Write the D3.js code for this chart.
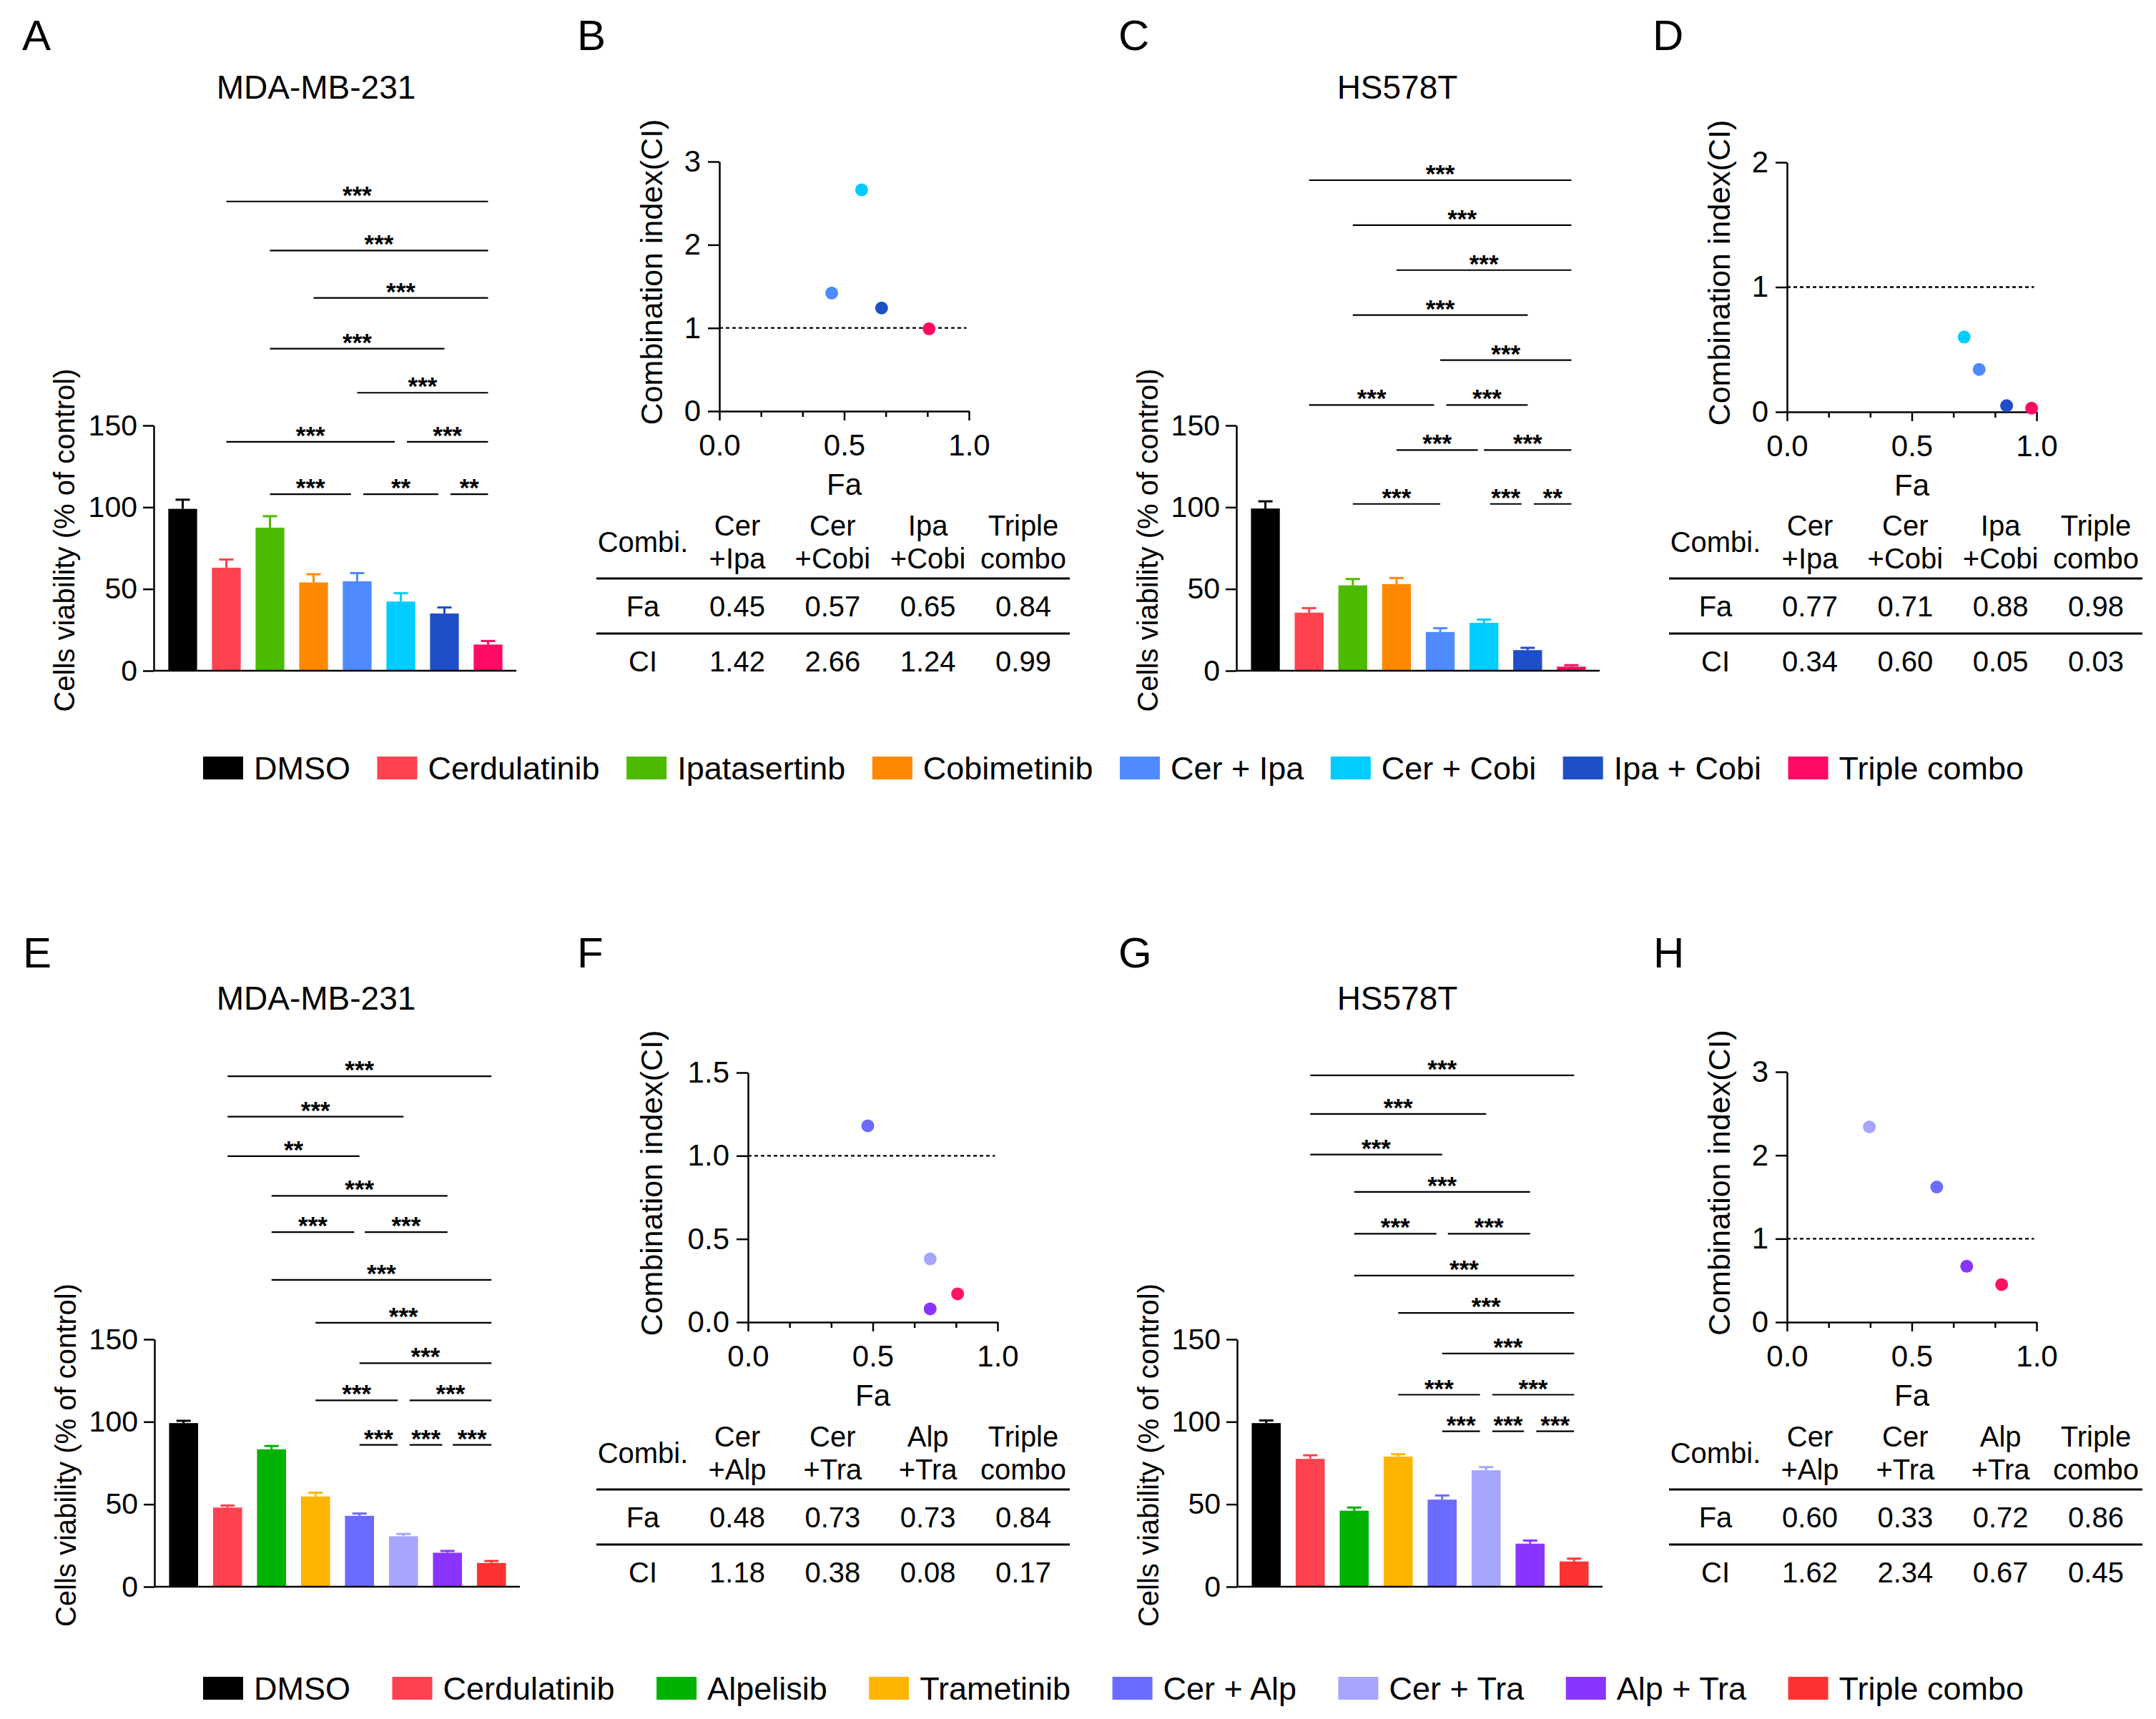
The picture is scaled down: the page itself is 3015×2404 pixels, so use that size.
<!DOCTYPE html>
<html>
<head>
<meta charset="utf-8">
<script src="https://cdn.jsdelivr.net/npm/d3@7"></script>
<style>
  body { margin: 0; background: #fff; }
  svg { display: block; font-family: "Liberation Sans", Arial, Helvetica, sans-serif; }
</style>
</head>
<body>
<script>
// ---- data ----
const groupsTop = ["DMSO", "Cerdulatinib", "Ipatasertinb", "Cobimetinib", "Cer + Ipa", "Cer + Cobi", "Ipa + Cobi", "Triple combo"];
const groupsBottom = ["DMSO", "Cerdulatinib", "Alpelisib", "Trametinib", "Cer + Alp", "Cer + Tra", "Alp + Tra", "Triple combo"];
const colorsTop = ["#000000", "#ff4250", "#4cbb00", "#ff8800", "#4f8bff", "#00ccff", "#1f4fc8", "#ff0a64"];
const colorsBottom = ["#000000", "#ff4250", "#00b300", "#ffb400", "#6b6bff", "#a6a6ff", "#8a35ff", "#ff3232"];

const barTicks = [0, 50, 100, 150];

// cell viability (% of control), mean and upper error
const viabilityA = [99, 63, 87.5, 54, 54.7, 42.3, 35, 16];
const errorA = [5.6, 5, 7, 5, 5, 5.1, 3.7, 2.2];
const viabilityC = [99.2, 35.5, 52.2, 53, 23.7, 29.3, 12.6, 2.5];
const errorC = [4.4, 2.8, 3.9, 3.7, 2.3, 2, 1.4, 0.9];
const viabilityE = [99.2, 48, 83.3, 54.7, 43, 30.6, 20.6, 14.4];
const errorE = [1.4, 1.2, 2, 2.3, 1.4, 1.4, 1.1, 1.2];
const viabilityG = [99.2, 77.5, 46.1, 78.9, 52.8, 70.6, 26.1, 15.3];
const errorG = [1.6, 2.2, 1.9, 1.4, 2.5, 1.9, 1.9, 1.7];

// significance brackets: [from bar, to bar, level (% units), label]
const bracketsA = [
  [1, 7, 287, "***"], [2, 7, 257, "***"], [3, 7, 228, "***"], [2, 6, 197, "***"],
  [4, 7, 170, "***"], [1, 4.86, 140, "***"], [5.14, 7, 140, "***"],
  [2, 3.86, 108, "***"], [4.14, 5.86, 108, "**"], [6.14, 7, 108, "**"]
];
const bracketsC = [
  [1, 7, 300, "***"], [2, 7, 272.5, "***"], [3, 7, 245, "***"], [2, 6, 217.5, "***"],
  [4, 7, 190, "***"], [1, 3.86, 162.5, "***"], [4.14, 6, 162.5, "***"],
  [3, 4.86, 135, "***"], [5, 7, 135, "***"],
  [2, 4, 102, "***"], [5.14, 5.86, 102, "***"], [6.14, 7, 102, "**"]
];
const bracketsE = [
  [1, 7, 309.5, "***"], [1, 5, 285, "***"], [1, 4, 261, "**"], [2, 6, 237, "***"],
  [2, 3.88, 215, "***"], [4.12, 6, 215, "***"], [2, 7, 186, "***"], [3, 7, 160, "***"],
  [4, 7, 135.5, "***"], [3, 4.87, 113, "***"], [5.14, 7, 113, "***"],
  [4, 4.87, 86, "***"], [5.14, 5.88, 86, "***"], [6.12, 7, 86, "***"]
];
const bracketsG = [
  [1, 7, 310, "***"], [1, 5, 286.6, "***"], [1, 4, 262, "***"], [2, 6, 239.4, "***"],
  [2, 3.87, 214, "***"], [4.13, 6, 214, "***"], [2, 7, 188.6, "***"], [3, 7, 166, "***"],
  [4, 7, 141.4, "***"], [3, 4.86, 116.4, "***"], [5.14, 7, 116.4, "***"],
  [4, 4.86, 94.2, "***"], [5.14, 5.86, 94.2, "***"], [6.14, 7, 94.2, "***"]
];

// combination index tables
const combosTop = [["Cer", "+Ipa"], ["Cer", "+Cobi"], ["Ipa", "+Cobi"], ["Triple", "combo"]];
const combosBottom = [["Cer", "+Alp"], ["Cer", "+Tra"], ["Alp", "+Tra"], ["Triple", "combo"]];
const faB = [0.45, 0.57, 0.65, 0.84];
const ciB = [1.42, 2.66, 1.24, 0.99];
const faD = [0.77, 0.71, 0.88, 0.98];
const ciD = [0.34, 0.60, 0.05, 0.03];
const faF = [0.48, 0.73, 0.73, 0.84];
const ciF = [1.18, 0.38, 0.08, 0.17];
const faH = [0.60, 0.33, 0.72, 0.86];
const ciH = [1.62, 2.34, 0.67, 0.45];
const dotColorsTop = ["#4f8bff", "#00ccff", "#1f4fc8", "#ff0a64"];
const dotColorsBottom = ["#6b6bff", "#a6a6ff", "#8a35ff", "#ff1464"];

// ---- drawing ----
const svg = d3.select("body").append("svg")
  .attr("width", 3015)
  .attr("height", 2404);

function styleAxis(ax, size) {
  ax.attr("font-family", null).attr("font-size", size);
  ax.select(".domain").attr("stroke-width", 2.5);
  ax.selectAll(".tick line").attr("stroke-width", 2.5);
  ax.selectAll(".tick text").attr("fill", "#000");
}

function panelLabel(letter, x, y) {
  svg.append("text").attr("x", x).attr("y", y)
    .attr("font-size", 60).text(letter);
}

function drawBars(p) {
  const g = svg.append("g");
  const n = p.values.length;
  const x = d3.scaleBand().domain(d3.range(n))
    .range([p.x0 + 10, p.x1 - 9])
    .paddingInner(0.34).paddingOuter(0.17);
  const y = d3.scaleLinear().domain([0, 150]).range([p.y0, p.yTop]);
  const half = x.bandwidth() / 2;
  const pos = d3.scaleLinear().domain([0, n - 1]).range([x(0) + half, x(n - 1) + half]);

  g.selectAll("rect").data(p.values).join("rect")
    .attr("x", (d, i) => x(i))
    .attr("y", d => y(d))
    .attr("width", x.bandwidth())
    .attr("height", d => y(0) - y(d))
    .attr("fill", (d, i) => p.colors[i]);

  const err = g.selectAll("g.err").data(p.values).join("g")
    .attr("class", "err")
    .attr("stroke", (d, i) => p.colors[i])
    .attr("stroke-width", 3);
  err.append("line")
    .attr("x1", (d, i) => pos(i)).attr("x2", (d, i) => pos(i))
    .attr("y1", d => y(d)).attr("y2", (d, i) => y(d + p.errors[i]));
  err.append("line")
    .attr("x1", (d, i) => pos(i) - 10).attr("x2", (d, i) => pos(i) + 10)
    .attr("y1", (d, i) => y(d + p.errors[i])).attr("y2", (d, i) => y(d + p.errors[i]));

  const ax = g.append("g").attr("transform", `translate(${p.x0},0)`)
    .call(d3.axisLeft(y).tickValues(barTicks).tickSize(15).tickPadding(8).tickSizeOuter(0));
  styleAxis(ax, 41);
  g.append("line")
    .attr("x1", p.x0).attr("x2", p.x1)
    .attr("y1", y(0)).attr("y2", y(0))
    .attr("stroke", "#000").attr("stroke-width", 2.5);

  const br = g.selectAll("g.br").data(p.brackets).join("g").attr("class", "br");
  br.append("line")
    .attr("x1", d => pos(d[0])).attr("x2", d => pos(d[1]))
    .attr("y1", d => y(d[2])).attr("y2", d => y(d[2]))
    .attr("stroke", "#000").attr("stroke-width", 2.2);
  br.append("text")
    .attr("x", d => (pos(d[0]) + pos(d[1])) / 2)
    .attr("y", d => y(d[2]) + 3)
    .attr("text-anchor", "middle")
    .attr("font-size", 35)
    .attr("font-weight", "bold")
    .text(d => d[3]);

  g.append("text")
    .attr("transform", `translate(${p.ytx},${(p.y0 + p.yTop) / 2 - 11}) rotate(-90)`)
    .attr("text-anchor", "middle")
    .attr("font-size", 40)
    .text("Cells viability (% of control)");

  g.append("text").attr("x", p.titleX).attr("y", p.titleY)
    .attr("text-anchor", "middle").attr("font-size", 46)
    .text(p.title);
}

function drawScatter(p) {
  const g = svg.append("g");
  const x = d3.scaleLinear().domain([0, 1]).range([p.x0, p.x1]);
  const y = d3.scaleLinear().domain([0, p.yMax]).range([p.y0, p.yTop]);

  g.append("line")
    .attr("x1", x(0)).attr("x2", x(0.99))
    .attr("y1", y(1)).attr("y2", y(1))
    .attr("stroke", "#000").attr("stroke-width", 2.4)
    .attr("stroke-dasharray", "5 4");

  const ay = g.append("g").attr("transform", `translate(${p.x0},0)`)
    .call(d3.axisLeft(y).tickValues(p.yTicks).tickSize(16).tickPadding(10)
      .tickSizeOuter(0).tickFormat(d3.format(p.yFormat)));
  styleAxis(ay, 42);

  const ax = g.append("g").attr("transform", `translate(0,${p.y0})`)
    .call(d3.axisBottom(x).tickValues([0, 0.5, 1]).tickSize(13).tickPadding(19)
      .tickSizeOuter(0).tickFormat(d3.format(".1f")));
  styleAxis(ax, 42);
  const minor = g.append("g").attr("transform", `translate(0,${p.y0})`)
    .call(d3.axisBottom(x).tickValues([1, 2, 4, 5].map(k => k / 6)).tickSize(8).tickFormat(""));
  minor.select(".domain").remove();
  minor.selectAll(".tick line").attr("stroke-width", 2.5);

  g.selectAll("circle").data(p.fa).join("circle")
    .attr("cx", d => x(d))
    .attr("cy", (d, i) => y(p.ci[i]))
    .attr("r", 9)
    .attr("fill", (d, i) => p.colors[i]);

  g.append("text")
    .attr("x", (p.x0 + p.x1) / 2).attr("y", p.y0 + 117)
    .attr("text-anchor", "middle").attr("font-size", 42)
    .text("Fa");

  g.append("text")
    .attr("transform", `translate(${p.ytx},${(p.y0 + p.yTop) / 2 - 20}) rotate(-90)`)
    .attr("text-anchor", "middle")
    .attr("font-size", 43)
    .text("Combination index(CI)");

  // table under the plot
  const fmt = d3.format(".2f");
  const t = g.append("g")
    .attr("transform", `translate(${p.tx},${p.ty})`)
    .attr("font-size", 40)
    .attr("text-anchor", "middle");
  const col = d3.scalePoint().domain(d3.range(p.combos.length)).range([197, 597]);
  t.append("text").attr("x", 65).attr("y", -37).text("Combi.");
  t.selectAll("text.h1").data(p.combos).join("text").attr("class", "h1")
    .attr("x", (d, i) => col(i)).attr("y", -60).text(d => d[0]);
  t.selectAll("text.h2").data(p.combos).join("text").attr("class", "h2")
    .attr("x", (d, i) => col(i)).attr("y", -14).text(d => d[1]);
  t.selectAll("line").data([0, 77]).join("line")
    .attr("x1", 0).attr("x2", 662)
    .attr("y1", d => d).attr("y2", d => d)
    .attr("stroke", "#000").attr("stroke-width", 3);
  t.append("text").attr("x", 65).attr("y", 53).text("Fa");
  t.selectAll("text.fa").data(p.fa).join("text").attr("class", "fa")
    .attr("x", (d, i) => col(i)).attr("y", 53).text(d => fmt(d));
  t.append("text").attr("x", 65).attr("y", 130).text("CI");
  t.selectAll("text.ci").data(p.ci).join("text").attr("class", "ci")
    .attr("x", (d, i) => col(i)).attr("y", 130).text(d => fmt(d));
}

function drawLegend(names, colors, baseline, left, right) {
  const g = svg.append("g").attr("font-size", 45);
  const items = g.selectAll("g").data(names).join("g");
  items.append("rect")
    .attr("width", 56).attr("height", 32)
    .attr("y", baseline - 32)
    .attr("fill", (d, i) => colors[i]);
  items.append("text").attr("x", 71).attr("y", baseline).text(d => d);
  const widths = items.select("text").nodes().map(nd => nd.getComputedTextLength());
  const gap = (right - left - d3.sum(widths) - names.length * 71) / (names.length - 1);
  let cx = left;
  items.each(function (d, i) {
    d3.select(this).attr("transform", `translate(${cx},0)`);
    cx += 71 + widths[i] + gap;
  });
}

// top row
panelLabel("A", 31, 70);
panelLabel("B", 807, 70);
panelLabel("C", 1564, 70);
panelLabel("D", 2311, 70);
drawBars({ x0: 215, x1: 722, y0: 938, yTop: 595, ytx: 104, title: "MDA-MB-231", titleX: 442, titleY: 138,
  values: viabilityA, errors: errorA, colors: colorsTop, brackets: bracketsA });
drawBars({ x0: 1729, x1: 2237, y0: 938, yTop: 595, ytx: 1619, title: "HS578T", titleX: 1954, titleY: 138,
  values: viabilityC, errors: errorC, colors: colorsTop, brackets: bracketsC });
drawScatter({ x0: 1006, x1: 1355, y0: 575, yTop: 226, yMax: 3, yTicks: [0, 1, 2, 3], yFormat: "d", ytx: 926,
  fa: faB, ci: ciB, colors: dotColorsTop, combos: combosTop, tx: 834, ty: 809 });
drawScatter({ x0: 2499, x1: 2848, y0: 576, yTop: 227, yMax: 2, yTicks: [0, 1, 2], yFormat: "d", ytx: 2419,
  fa: faD, ci: ciD, colors: dotColorsTop, combos: combosTop, tx: 2334, ty: 809 });
drawLegend(groupsTop, colorsTop, 1090, 284, 2830);

// bottom row
panelLabel("E", 32, 1353);
panelLabel("F", 807, 1353);
panelLabel("G", 1564, 1353);
panelLabel("H", 2312, 1353);
drawBars({ x0: 216, x1: 727, y0: 2219, yTop: 1873, ytx: 106, title: "MDA-MB-231", titleX: 442, titleY: 1412,
  values: viabilityE, errors: errorE, colors: colorsBottom, brackets: bracketsE });
drawBars({ x0: 1730, x1: 2241, y0: 2219, yTop: 1873, ytx: 1620, title: "HS578T", titleX: 1954, titleY: 1412,
  values: viabilityG, errors: errorG, colors: colorsBottom, brackets: bracketsG });
drawScatter({ x0: 1046, x1: 1395, y0: 1849, yTop: 1500, yMax: 1.5, yTicks: [0, 0.5, 1, 1.5], yFormat: ".1f", ytx: 926,
  fa: faF, ci: ciF, colors: dotColorsBottom, combos: combosBottom, tx: 834, ty: 2083 });
drawScatter({ x0: 2499, x1: 2848, y0: 1849, yTop: 1499, yMax: 3, yTicks: [0, 1, 2, 3], yFormat: "d", ytx: 2419,
  fa: faH, ci: ciH, colors: dotColorsBottom, combos: combosBottom, tx: 2334, ty: 2083 });
drawLegend(groupsBottom, colorsBottom, 2377, 284, 2830);
</script>
</body>
</html>
